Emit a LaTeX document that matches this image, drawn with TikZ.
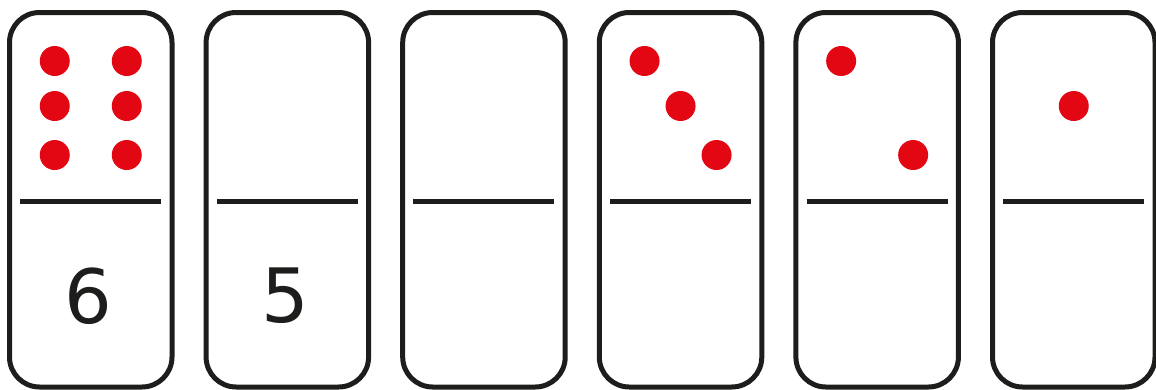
\documentclass[tikz,border=0pt]{standalone}
\usepackage{fontspec}
\setmainfont{DejaVu Sans}
\usepackage{xcolor}
\usepackage{tikz}
\usetikzlibrary{calc, positioning}
\definecolor{pipred}{HTML}{E30613}
\definecolor{inkdark}{HTML}{1D1D1B}

\begin{document}
\begin{tikzpicture}[x=1pt, y=-1pt,
    tile/.style={draw=inkdark, line width=5pt, rounded corners=30pt,
        minimum width=162.5pt, minimum height=374.5pt, inner sep=0pt},
    pip/.style={circle, fill=pipred, inner sep=0pt, minimum size=30pt},
    num/.style={text=inkdark, inner sep=0pt, font=\fontsize{75}{80}\selectfont}]
    \useasboundingbox (0,0) rectangle (1156,389);

    % Dominosteine
    \foreach \i in {1,...,6} {
        \node[tile] (d\i) at ({90.75+(\i-1)*196.6}, 199.75) {};
        \draw[inkdark, line width=5pt] ($(d\i.center)+(-70.5,1.75)$) -- ++(141,0);
    }

    % Augen oben
    \foreach \dx/\dy [count=\k] in {-36/-138.75, 36/-138.75, -36/-93.75, 36/-93.75, -36/-44.75, 36/-44.75}
        \node[pip] (a\k) at ($(d1.center)+(\dx,\dy)$) {};
    \foreach \dx/\dy [count=\k] in {-36/-138.75, 0/-93.75, 36/-44.75}
        \node[pip] (c\k) at ($(d4.center)+(\dx,\dy)$) {};
    \foreach \dx/\dy [count=\k] in {-36/-138.75, 36/-44.75}
        \node[pip] (e\k) at ($(d5.center)+(\dx,\dy)$) {};
    \node[pip] (f1) at ($(d6.center)+(0,-93.75)$) {};

    % Zahlen unten
    \node[num] (n6) at ($(d1.center)+(-2,96)$) {6};
    \node[num] (n5) at ($(d2.center)+(-2,96)$) {5};
\end{tikzpicture}
\end{document}
